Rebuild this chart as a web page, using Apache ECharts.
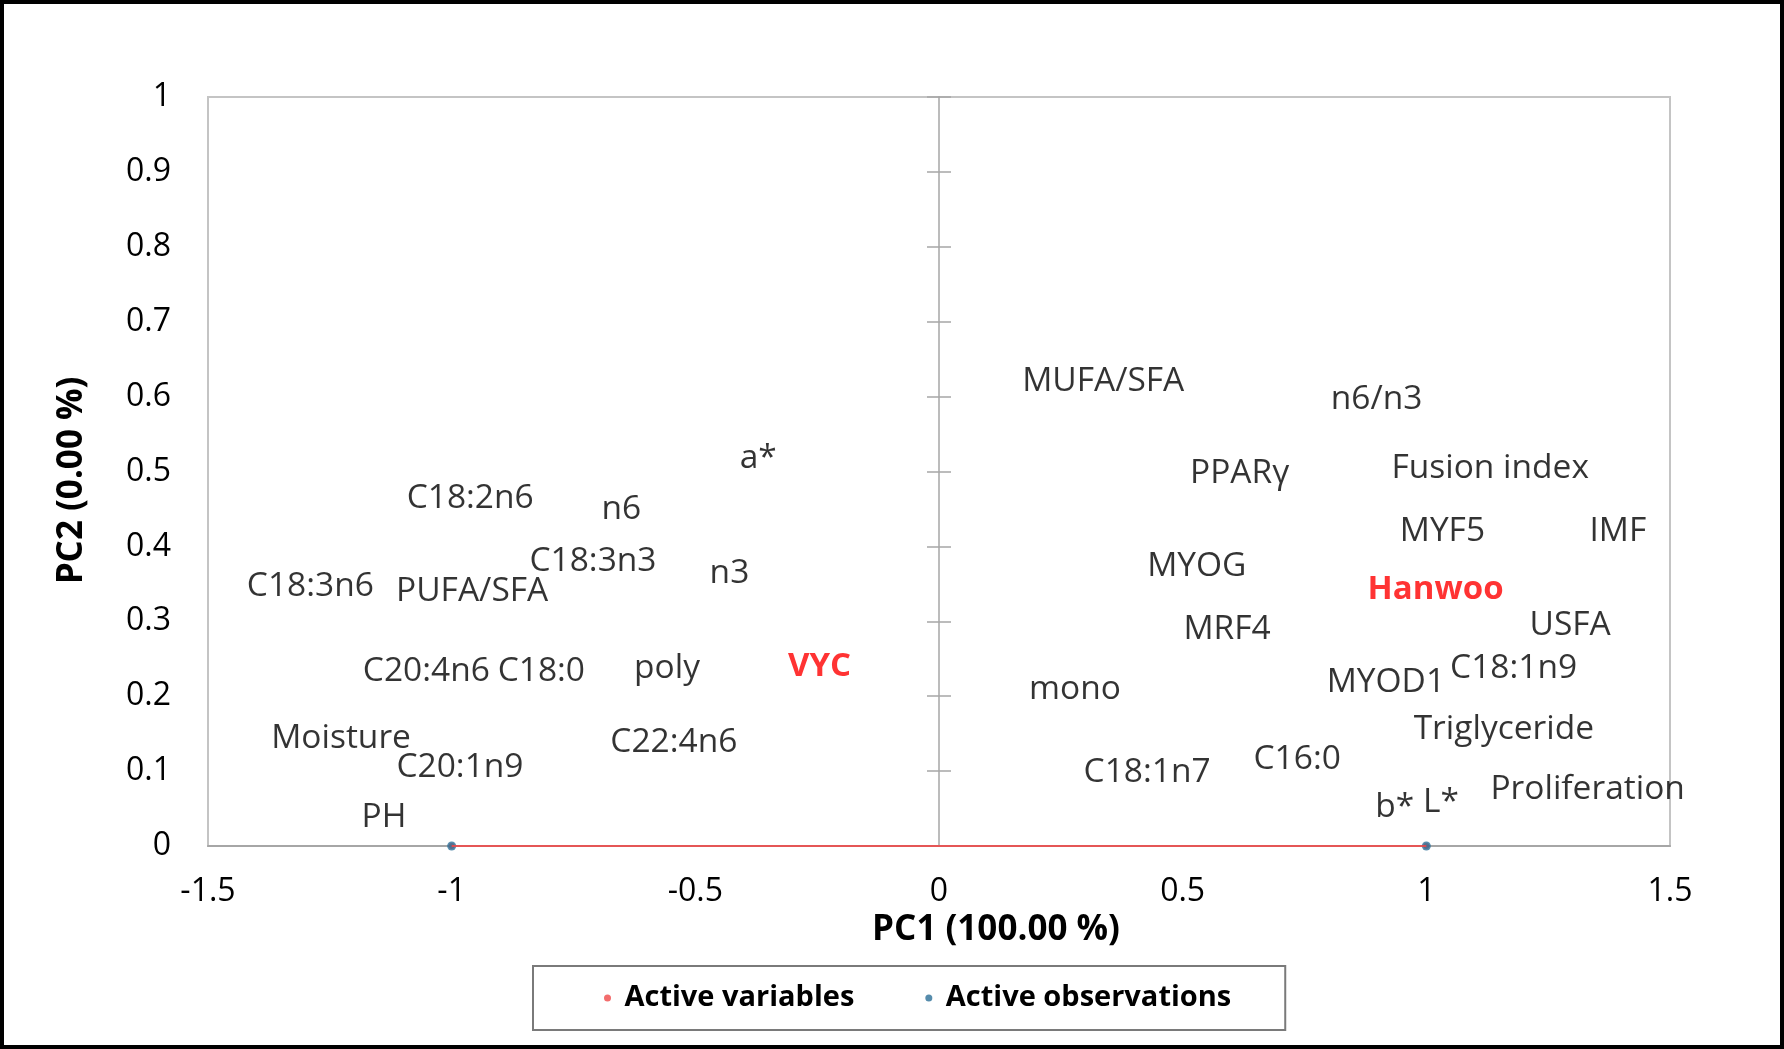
<!DOCTYPE html>
<html>
<head>
<meta charset="utf-8">
<script src="https://cdn.jsdelivr.net/npm/echarts@6/dist/echarts.min.js"></script>
<style>
html,body{margin:0;padding:0;background:#fff;}
#chart{width:1784px;height:1049px;}
</style>
</head>
<body>
<div id="chart"></div>
<script>
// ---- data ----
const xTickLabels = ['-1.5', '-1', '-0.5', '0', '0.5', '1', '1.5'];
const yTickLabels = ['0', '0.1', '0.2', '0.3', '0.4', '0.5', '0.6', '0.7', '0.8', '0.9', '1'];
const xAxisTitle = 'PC1 (100.00 %)';
const yAxisTitle = 'PC2 (0.00 %)';
const legendNames = ['Active variables', 'Active observations'];

// active variables: vectors along PC1 from -1 to 1
const variablePointX = [-1, 1];
const variablePointY = [0, 0];

// active observations
const observationX = [-1, 1];
const observationY = [0, 0];

// observation labels (red)
const observationNames = ['VYC', 'Hanwoo'];
const observationLabelX = [-0.245, 1.019];
const observationLabelY = [0.244, 0.347];

// variable labels
const variableNames = [
  'MUFA/SFA', 'n6/n3', 'a*', 'C18:2n6', 'n6', 'PPARγ', 'Fusion index', 'MYF5', 'IMF',
  'C18:3n3', 'n3', 'C18:3n6', 'PUFA/SFA', 'MYOG', 'USFA', 'MRF4',
  'C20:4n6', 'C18:0', 'poly', 'C18:1n9', 'MYOD1', 'mono', 'Triglyceride',
  'Moisture', 'C22:4n6', 'C20:1n9', 'C16:0', 'C18:1n7', 'Proliferation',
  'b*', 'L*', 'PH'
];
const variableLabelX = [
  0.337, 0.898, -0.371, -0.962, -0.652, 0.617, 1.131, 1.033, 1.393,
  -0.710, -0.430, -1.290, -0.958, 0.529, 1.295, 0.591,
  -1.052, -0.816, -0.558, 1.179, 0.917, 0.279, 1.159,
  -1.227, -0.544, -0.983, 0.735, 0.427, 1.331,
  0.935, 1.030, -1.139
];
const variableLabelY = [
  0.625, 0.602, 0.523, 0.470, 0.455, 0.503, 0.509, 0.425, 0.425,
  0.385, 0.369, 0.352, 0.345, 0.378, 0.300, 0.294,
  0.239, 0.239, 0.242, 0.242, 0.224, 0.215, 0.161,
  0.149, 0.144, 0.110, 0.121, 0.104, 0.081,
  0.057, 0.064, 0.044
];

// ---- chart ----
const FONT = '"Open Sans", "Noto Sans", sans-serif';
const RED = '#f04848';
const BLUE = '#2c6f97';
const AXIS_GREY = '#a6a6a6';

const chart = echarts.init(document.getElementById('chart'), null, {renderer: 'canvas'});

function pairs(xs, ys) { return xs.map((x, i) => [x, ys[i]]); }

const valueAxisY = {
  type: 'value', min: 0, max: 1, interval: 0.1,
  splitLine: {show: false}
};

const option = {
  animation: false,
  backgroundColor: '#fff',
  textStyle: {fontFamily: FONT},
  graphic: [{
    type: 'rect',
    shape: {x: 2, y: 2, width: 1780, height: 1045},
    style: {fill: 'none', stroke: '#000', lineWidth: 4},
    silent: true, z: 100
  }],
  grid: {
    left: 208, top: 97, width: 1462, height: 749,
    show: true, borderColor: '#c4c4c4', borderWidth: 2,
    backgroundColor: 'transparent'
  },
  legend: {
    data: legendNames,
    left: 533, top: 966,
    padding: [16, 54, 16, 71],
    itemGap: 71,
    itemWidth: 24, itemHeight: 7,
    icon: 'circle',
    borderColor: '#7a7a7a', borderWidth: 2,
    selectedMode: false,
    textStyle: {fontFamily: FONT, fontSize: 29, fontWeight: 'bold', color: '#000', lineHeight: 32}
  },
  xAxis: {
    type: 'value', min: -1.5, max: 1.5, interval: 0.5,
    axisLine: {show: true, onZero: false, lineStyle: {color: AXIS_GREY, width: 2}},
    axisTick: {show: false},
    splitLine: {show: false},
    axisLabel: {
      fontFamily: FONT, fontSize: 32, color: '#000', margin: 30,
      formatter: (v) => xTickLabels[Math.round((v + 1.5) / 0.5)]
    },
    name: xAxisTitle, nameLocation: 'middle', nameGap: 41,
    nameTextStyle: {fontFamily: FONT, fontSize: 35, fontWeight: 'bold', color: '#000', padding: [0, 0, 0, 114]}
  },
  yAxis: [
    Object.assign({}, valueAxisY, {
      position: 'left',
      axisLine: {show: false, onZero: false},
      axisTick: {show: false},
      axisLabel: {
        fontFamily: FONT, fontSize: 32, color: '#000', margin: 37,
        formatter: (v) => yTickLabels[Math.round(v * 10)]
      },
      name: yAxisTitle, nameLocation: 'middle', nameGap: 118, nameRotate: 90,
      nameTextStyle: {fontFamily: FONT, fontSize: 35, fontWeight: 'bold', color: '#000', padding: [0, 18, 0, 0]}
    }),
    Object.assign({}, valueAxisY, {
      position: 'left',
      axisLine: {show: true, onZero: true, onZeroAxisIndex: 0, lineStyle: {color: AXIS_GREY, width: 1.5}},
      axisTick: {show: true, inside: true, length: 12, lineStyle: {color: AXIS_GREY, width: 1.5}},
      axisLabel: {show: false}
    }),
    Object.assign({}, valueAxisY, {
      position: 'left',
      axisLine: {show: false, onZero: true, onZeroAxisIndex: 0},
      axisTick: {show: true, inside: false, length: 12, lineStyle: {color: AXIS_GREY, width: 1.5}},
      axisLabel: {show: false}
    })
  ],
  series: [
    {
      name: legendNames[0],
      type: 'scatter',
      data: pairs(variablePointX, variablePointY),
      symbolSize: 6,
      itemStyle: {color: RED},
      silent: true,
      markLine: {
        silent: true,
        symbol: ['none', 'none'],
        label: {show: false},
        lineStyle: {color: RED, width: 2, type: 'solid', opacity: 0.85},
        data: [[
          {coord: [variablePointX[0], variablePointY[0]]},
          {coord: [variablePointX[1], variablePointY[1]]}
        ]]
      },
      z: 3
    },
    {
      name: legendNames[1],
      type: 'scatter',
      data: pairs(observationX, observationY),
      symbolSize: 9,
      itemStyle: {color: BLUE},
      silent: true,
      z: 4
    },
    {
      name: 'variableLabels',
      type: 'scatter',
      silent: true,
      symbolSize: 0,
      data: variableNames.map((n, i) => ({name: n, value: [variableLabelX[i], variableLabelY[i]]})),
      label: {
        show: true, position: 'inside', formatter: '{b}', offset: [0, 4],
        fontFamily: FONT, fontSize: 33.5, color: '#000'
      },
      z: 5
    },
    {
      name: 'observationLabels',
      type: 'scatter',
      silent: true,
      symbolSize: 0,
      data: observationNames.map((n, i) => ({name: n, value: [observationLabelX[i], observationLabelY[i]]})),
      label: {
        show: true, position: 'inside', formatter: '{b}', offset: [0, 3],
        fontFamily: FONT, fontSize: 33, fontWeight: 'bold', color: '#ff0000'
      },
      z: 5
    }
  ]
};

chart.setOption(option);
</script>
</body>
</html>
